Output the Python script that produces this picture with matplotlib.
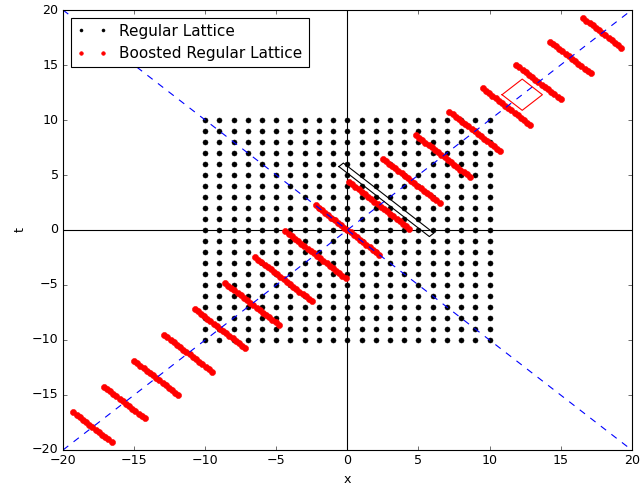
#lattice plotter
#regular lattice and the same lattice after a lorentz boost
#install lib: matplotlib, numpy

import numpy as np
import matplotlib
matplotlib.use("Agg")
import matplotlib.pyplot as plt

plt.style.use("classic")
plt.rcParams["font.size"] = 11.4

# integer sites in x and t
sites = np.arange(-10, 11)
rapidity = 1.5

# small cell in the boosted frame (diamond), closed path
cell_x = [10.88, 12.3, 13.72, 12.3, 10.88]
cell_t = [12.3, 13.72, 12.3, 10.88, 12.3]

# light cone
cone = [-20, 20]


def boost(x, t, eta):
    x = np.asarray(x, dtype=float)
    t = np.asarray(t, dtype=float)
    return x * np.cosh(eta) + t * np.sinh(eta), t * np.cosh(eta) + x * np.sinh(eta)


X, T = np.meshgrid(sites, sites)
bx, bt = boost(X.ravel(), T.ravel(), rapidity)

# same cell seen from the rest frame
rest_x, rest_t = boost(cell_x, cell_t, -rapidity)

fig = plt.figure(figsize=(643 / 80.0, 486 / 80.0), dpi=80)
fig.patch.set_facecolor("white")
ax = fig.add_axes([0.098, 0.0741, 0.8844, 0.9053])

ax.plot(X.ravel(), T.ravel(), "k.", ms=9, label="Regular Lattice")
ax.axhline(0, color="k")
ax.axvline(0, color="k")
ax.plot(bx, bt, "r.", ms=11, label="Boosted Regular Lattice")
ax.plot(cone, cone, "b--")
ax.plot(cone, cone[::-1], "b--")
ax.plot(rest_x, rest_t, "k-")
ax.plot(cell_x, cell_t, "r-")

ax.set_xlim(-20, 20)
ax.set_ylim(-20, 20)
ax.set_xlabel("x")
ax.set_ylabel("t")
ax.legend(loc="upper left", markerscale=0.6)

fig.savefig("out.png", dpi=80, facecolor="white")
